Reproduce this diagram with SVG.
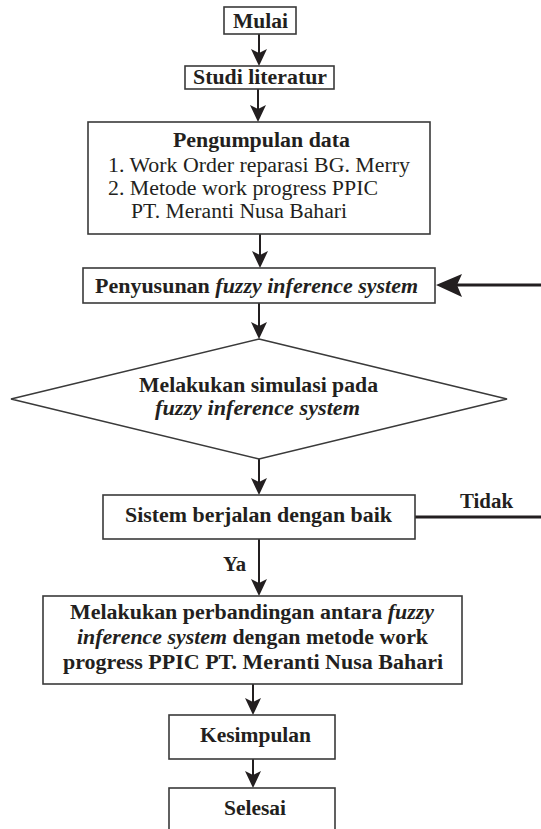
<svg xmlns="http://www.w3.org/2000/svg" width="541" height="829" viewBox="0 0 541 829">
<defs>
<style>
.box{fill:#fff;stroke:#3a3a3a;stroke-width:1.6}
.t{font-family:"Liberation Serif","Times New Roman",serif;font-size:20px;fill:#231f20}
.b{font-weight:bold}
.i{font-style:italic}
.ln{stroke:#231f20;stroke-width:2;fill:none}
.thk{stroke:#231f20;stroke-width:3.2;fill:none}
.hd{fill:#231f20}
</style>
</defs>
<rect width="541" height="829" fill="#fff"/>
<g id="connectors">
<line class="ln" x1="259" y1="34" x2="259" y2="56"/>
<polygon class="hd" points="259,66 251,49 259,53 267,49"/>
<line class="ln" x1="258" y1="89" x2="258" y2="112"/>
<polygon class="hd" points="258,122 250,105 258,109 266,105"/>
<line class="ln" x1="260" y1="234" x2="260" y2="258"/>
<polygon class="hd" points="260,268 252,251 260,255 268,251"/>
<line class="ln" x1="259" y1="303" x2="259" y2="329"/>
<polygon class="hd" points="259,339 251,322 259,326 267,322"/>
<line class="ln" x1="259" y1="459" x2="259" y2="485"/>
<polygon class="hd" points="259,495 251,478 259,482 267,478"/>
<line class="ln" x1="259" y1="539" x2="259" y2="586"/>
<polygon class="hd" points="259,596 251,579 259,583 267,579"/>
<line class="ln" x1="253" y1="684" x2="253" y2="705"/>
<polygon class="hd" points="253,715 245,698 253,702 261,698"/>
<line class="ln" x1="253" y1="759" x2="253" y2="778"/>
<polygon class="hd" points="253,788 245,771 253,775 261,771"/>
<line class="thk" x1="541" y1="285" x2="456" y2="285"/>
<polygon class="hd" points="436,285 462,274 457,285 462,297"/>
<line class="thk" x1="415" y1="517" x2="541" y2="517"/>
<text class="t b" x="460" y="508" textLength="53" lengthAdjust="spacingAndGlyphs">Tidak</text>
<text class="t b" x="223" y="571" textLength="23" lengthAdjust="spacingAndGlyphs">Ya</text>
</g>
<g id="mulai">
<rect class="box" x="224" y="7" width="72" height="27"/>
<text class="t b" x="233" y="28" textLength="55" lengthAdjust="spacingAndGlyphs">Mulai</text>
</g>
<g id="studi">
<rect class="box" x="185" y="66" width="149" height="23"/>
<text class="t b" x="193" y="84" textLength="134" lengthAdjust="spacingAndGlyphs">Studi literatur</text>
</g>
<g id="pengumpulan">
<rect class="box" x="88" y="122" width="342" height="112"/>
<text class="t b" x="173" y="147" textLength="177" lengthAdjust="spacingAndGlyphs">Pengumpulan data</text>
<text class="t" x="108" y="172" textLength="302" lengthAdjust="spacingAndGlyphs">1. Work Order reparasi BG. Merry</text>
<text class="t" x="108" y="195" textLength="270" lengthAdjust="spacingAndGlyphs">2. Metode work progress PPIC</text>
<text class="t" x="131" y="218" textLength="216" lengthAdjust="spacingAndGlyphs">PT. Meranti Nusa Bahari</text>
</g>
<g id="penyusunan">
<rect class="box" x="83" y="268" width="352" height="35"/>
<text class="t b" x="95" y="293" textLength="323" lengthAdjust="spacingAndGlyphs">Penyusunan <tspan class="i">fuzzy inference system</tspan></text>
</g>
<g id="simulasi">
<polygon class="box" points="259,339 507,399 259,459 11,399"/>
<text class="t b" x="139" y="392" textLength="239" lengthAdjust="spacingAndGlyphs">Melakukan simulasi pada</text>
<text class="t b i" x="155" y="415" textLength="205" lengthAdjust="spacingAndGlyphs">fuzzy inference system</text>
</g>
<g id="sistem">
<rect class="box" x="103" y="495" width="312" height="44"/>
<text class="t b" x="125" y="522" textLength="267" lengthAdjust="spacingAndGlyphs">Sistem berjalan dengan baik</text>
</g>
<g id="perbandingan">
<rect class="box" x="43" y="596" width="419" height="88"/>
<text class="t b" x="70" y="619" textLength="364" lengthAdjust="spacingAndGlyphs">Melakukan perbandingan antara <tspan class="i">fuzzy</tspan></text>
<text class="t b" x="77" y="644" textLength="351" lengthAdjust="spacingAndGlyphs"><tspan class="i">inference system</tspan> dengan metode work</text>
<text class="t b" x="63" y="669" textLength="380" lengthAdjust="spacingAndGlyphs">progress PPIC PT. Meranti Nusa Bahari</text>
</g>
<g id="kesimpulan">
<rect class="box" x="169" y="715" width="166" height="44"/>
<text class="t b" x="200" y="742" textLength="111" lengthAdjust="spacingAndGlyphs">Kesimpulan</text>
</g>
<g id="selesai">
<rect class="box" x="169" y="788" width="166" height="60"/>
<text class="t b" x="224" y="815" textLength="62" lengthAdjust="spacingAndGlyphs">Selesai</text>
</g>
</svg>
